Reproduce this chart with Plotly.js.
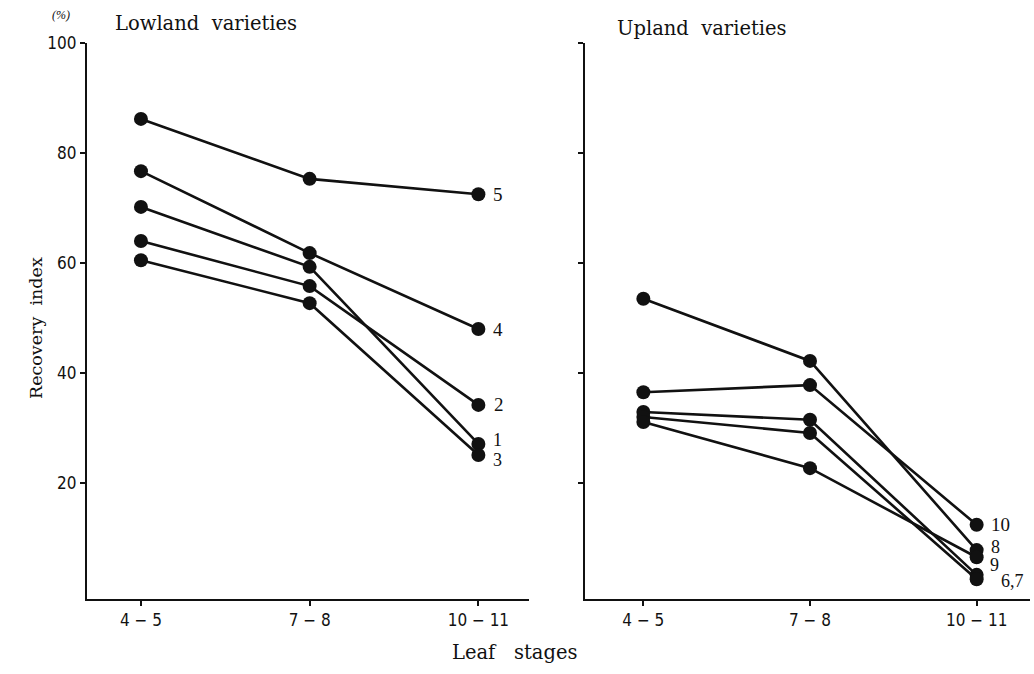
<!DOCTYPE html>
<html>
<head>
<meta charset="utf-8">
<script src="https://cdn.plot.ly/plotly-3.0.1.min.js"></script>
<style>html,body{margin:0;padding:0;background:#fff}#chart{width:1034px;height:674px}</style>
</head>
<body>
<div id="chart"></div>
<script>
// ---- data ----
const stages = ["4 − 5", "7 − 8", "10 − 11"];
const yTicks = [20, 40, 60, 80, 100];

// Lowland varieties
const lowland1 = [70.2, 59.3, 27.1];
const lowland2 = [64.0, 55.8, 34.2];
const lowland3 = [60.5, 52.7, 25.1];
const lowland4 = [76.7, 61.8, 48.0];
const lowland5 = [86.2, 75.3, 72.5];
const lowlandNames = ["1", "2", "3", "4", "5"];

// Upland varieties
const upland6 = [32.9, 31.5, 3.3];
const upland7 = [32.0, 29.1, 2.5];
const upland8 = [53.5, 42.2, 7.8];
const upland9 = [31.1, 22.7, 6.5];
const upland10 = [36.5, 37.8, 12.4];
const uplandNames = ["6", "7", "8", "9", "10"];

// ---- styling ----
const serif = "DejaVu Serif, Liberation Serif, serif";
const serif2 = "Liberation Serif, DejaVu Serif, serif";
const tickFont = {family: "DejaVu Sans Condensed, Liberation Sans Narrow, Liberation Sans, sans-serif", size: 17, color: "#111"};
const lineStyle = {color: "#111", width: 2.6};
const markerStyle = {color: "#111", size: 14};
const sp = "\u00a0\u00a0";
const sp3 = "\u00a0\u00a0\u00a0";

function series(y, name, xa, ya) {
  return {x: stages, y: y, name: name, xaxis: xa, yaxis: ya, type: "scatter",
          mode: "lines+markers", line: lineStyle, marker: markerStyle,
          showlegend: false, hoverinfo: "skip", cliponaxis: false};
}

const lowland = [lowland1, lowland2, lowland3, lowland4, lowland5];
const upland = [upland6, upland7, upland8, upland9, upland10];
const traces = [];
lowland.forEach((s, i) => traces.push(series(s, lowlandNames[i], "x", "y")));
upland.forEach((s, i) => traces.push(series(s, uplandNames[i], "x2", "y2")));

// end labels
function endLabel(text, ySeries, xa, ya, xshift, yshift, size) {
  return {text: text, x: stages[2], y: ySeries[2], xref: xa, yref: ya, xanchor: "left",
          yanchor: "middle", xshift: xshift, yshift: yshift, showarrow: false,
          font: {family: serif2, size: size || 19, color: "#111"}};
}

const axBase = {
  type: "category", showline: true, linecolor: "#111", linewidth: 2,
  ticks: "outside", ticklen: 5, tickwidth: 2, tickcolor: "#111",
  showgrid: false, zeroline: false, tickfont: tickFont, fixedrange: true
};
const yBase = {
  range: [-1, 100], tickvals: yTicks, showline: true, linecolor: "#111", linewidth: 2,
  ticks: "outside", ticklen: 5, tickwidth: 2, tickcolor: "#111",
  showgrid: false, zeroline: false, tickfont: tickFont, fixedrange: true,
  domain: [0.112, 0.9362]
};

const layout = {
  width: 1034, height: 674,
  margin: {l: 0, r: 0, t: 0, b: 0},
  paper_bgcolor: "#fff", plot_bgcolor: "#fff",
  xaxis: Object.assign({}, axBase, {domain: [0.0841, 0.5116], range: [-0.32, 2.30], anchor: "y"}),
  yaxis: Object.assign({}, yBase, {anchor: "x"}),
  xaxis2: Object.assign({}, axBase, {domain: [0.5658, 0.9961], range: [-0.35, 2.32], anchor: "y2"}),
  yaxis2: Object.assign({}, yBase, {anchor: "x2", showticklabels: false}),
  annotations: [
    {text: "Lowland" + sp + "varieties", xref: "paper", yref: "paper", x: 113/1034, y: 1 - 23/674,
     xanchor: "left", yanchor: "middle", showarrow: false, font: {family: serif, size: 19.5, color: "#111"}},
    {text: "Upland" + sp + "varieties", xref: "paper", yref: "paper", x: 615/1034, y: 1 - 29/674,
     xanchor: "left", yanchor: "middle", showarrow: false, font: {family: serif, size: 19.5, color: "#111"}},
    {text: "<i>(%)</i>", xref: "paper", yref: "paper", x: 61/1034, y: 1 - 15/674,
     xanchor: "center", yanchor: "middle", showarrow: false, font: {family: serif2, size: 12, color: "#111"}},
    {text: "Recovery" + sp + "index", xref: "paper", yref: "paper", x: 36/1034, y: 1 - 328/674,
     textangle: -90, xanchor: "center", yanchor: "middle", showarrow: false,
     font: {family: serif, size: 17.5, color: "#111"}},
    {text: "Leaf" + sp3 + "stages", xref: "paper", yref: "paper", x: 514/1034, y: 1 - 652/674,
     xanchor: "center", yanchor: "middle", showarrow: false, font: {family: serif, size: 19.5, color: "#111"}},
    endLabel("5", lowland5, "x", "y", 13, 0),
    endLabel("4", lowland4, "x", "y", 13, 0),
    endLabel("2", lowland2, "x", "y", 14, 0),
    endLabel("1", lowland1, "x", "y", 13, 4, 18),
    endLabel("3", lowland3, "x", "y", 13, -5, 18),
    endLabel("10", upland10, "x2", "y2", 12, 0),
    endLabel("8", upland8, "x2", "y2", 12, 3, 18),
    endLabel("9", upland9, "x2", "y2", 11, -8, 18),
    endLabel("6,7", upland6, "x2", "y2", 22, -6, 18)
  ]
};

Plotly.newPlot("chart", traces, layout, {staticPlot: true, displayModeBar: false});
</script>
</body>
</html>
